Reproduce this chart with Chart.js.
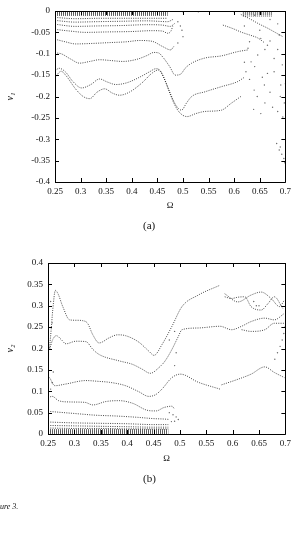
<!DOCTYPE html>
<html>
<head>
<meta charset="utf-8">
<script src="https://cdn.jsdelivr.net/npm/chart.js@4.4.1/dist/chart.umd.min.js"></script>
<style>
  body { margin: 0; background: #fff; width: 295px; height: 550px; position: relative; overflow: hidden; }
  canvas { position: absolute; left: 0; }
  .cap { position: absolute; font-family: 'Liberation Serif', 'DejaVu Serif', serif; color: #111; will-change: transform; }
</style>
</head>
<body>
<canvas id="chartA" width="295" height="211" style="top:0px"></canvas>
<canvas id="chartB" width="295" height="224" style="top:240px"></canvas>
<div class="cap" style="left:143px; top:219px; font-size:11px;">(a)</div>
<div class="cap" style="left:143px; top:472px; font-size:11px;">(b)</div>
<div class="cap" style="left:0px; top:502px; font-size:8px; font-style:italic;">ure 3.</div>
<script>
// ---- (a) v1 against Omega ----
var omegaTicks = [0.25, 0.3, 0.35, 0.4, 0.45, 0.5, 0.55, 0.6, 0.65, 0.7];

var bandTopLevels = [-0.001, -0.0025, -0.004, -0.0055, -0.007, -0.0085, -0.0105];
var bandTopOmega = [0.25, 0.47];
var bandTopRightLevels = [-0.001, -0.003, -0.005, -0.007, -0.009, -0.012];
var bandTopRightOmega = [0.617, 0.675];

var curveA0 = [[0.25,-0.015],[0.29,-0.018],[0.34,-0.017],[0.4,-0.017],[0.47,-0.017]];
var curveA1 = [[0.25,-0.022],[0.29,-0.026],[0.33,-0.025],[0.38,-0.024],[0.43,-0.023],[0.47,-0.025],[0.48,-0.02]];
var curveA2 = [[0.25,-0.031],[0.29,-0.036],[0.33,-0.035],[0.38,-0.034],[0.43,-0.032],[0.46,-0.033],[0.475,-0.036],[0.485,-0.028]];
var curveA3 = [[0.25,-0.043],[0.28,-0.047],[0.31,-0.05],[0.35,-0.049],[0.40,-0.048],[0.44,-0.046],[0.46,-0.047],[0.47,-0.052],[0.476,-0.048],[0.48,-0.036]];
var curveA4 = [[0.25,-0.066],[0.27,-0.072],[0.29,-0.077],[0.32,-0.076],[0.355,-0.074],[0.39,-0.072],[0.415,-0.069],[0.44,-0.071],[0.46,-0.083],[0.476,-0.091],[0.482,-0.083]];
var curveA5 = [[0.25,-0.098],[0.262,-0.1],[0.28,-0.112],[0.298,-0.122],[0.318,-0.118],[0.337,-0.114],[0.36,-0.116],[0.382,-0.118],[0.41,-0.113],[0.43,-0.104],[0.443,-0.097],[0.452,-0.098],[0.462,-0.11],[0.474,-0.13],[0.485,-0.15],[0.495,-0.148],[0.505,-0.133],[0.517,-0.122],[0.543,-0.11],[0.575,-0.105],[0.607,-0.095],[0.627,-0.091]];
var curveA6 = [[0.25,-0.14],[0.258,-0.134],[0.27,-0.142],[0.285,-0.165],[0.302,-0.18],[0.32,-0.172],[0.337,-0.159],[0.352,-0.166],[0.369,-0.172],[0.39,-0.168],[0.415,-0.155],[0.435,-0.142],[0.447,-0.135],[0.456,-0.14],[0.466,-0.165],[0.476,-0.195],[0.487,-0.222],[0.497,-0.232],[0.507,-0.215],[0.517,-0.2],[0.543,-0.189],[0.575,-0.177],[0.607,-0.165],[0.62,-0.155]];
var curveA7 = [[0.25,-0.155],[0.262,-0.141],[0.272,-0.152],[0.29,-0.182],[0.305,-0.2],[0.318,-0.205],[0.332,-0.19],[0.347,-0.182],[0.362,-0.192],[0.376,-0.197],[0.395,-0.19],[0.42,-0.168],[0.44,-0.145],[0.452,-0.138],[0.462,-0.155],[0.472,-0.185],[0.482,-0.215],[0.493,-0.237],[0.508,-0.247],[0.525,-0.24],[0.543,-0.235],[0.575,-0.232],[0.594,-0.216],[0.613,-0.2]];
var curveA8 = [[0.578,-0.033],[0.595,-0.04],[0.615,-0.05],[0.635,-0.058],[0.646,-0.063],[0.66,-0.075]];
var curveA9 = [[0.613,-0.008],[0.63,-0.018],[0.648,-0.03],[0.665,-0.04],[0.68,-0.05],[0.695,-0.06]];

var cloudA = [[0.627,-0.087],[0.646,-0.103],[0.633,-0.119],[0.665,-0.08],[0.678,-0.142],[0.623,-0.142],[0.691,-0.173],
  [0.659,-0.173],[0.639,-0.185],[0.678,-0.111],[0.688,-0.056],[0.652,-0.064],[0.63,-0.072],[0.665,-0.146],[0.694,-0.126],
  [0.64,-0.13],[0.655,-0.155],[0.67,-0.19],[0.645,-0.2],[0.66,-0.215],[0.675,-0.225],[0.685,-0.235],[0.695,-0.248],
  [0.63,-0.16],[0.62,-0.12],[0.66,-0.09],[0.67,-0.07],[0.685,-0.09],[0.69,-0.2],[0.698,-0.215],[0.7,-0.17],[0.652,-0.24],
  [0.638,-0.23],[0.683,-0.31],[0.688,-0.325],[0.693,-0.335],[0.697,-0.345],[0.699,-0.355],[0.69,-0.318],
  [0.49,-0.025],[0.495,-0.035],[0.498,-0.045],[0.5,-0.06],[0.49,-0.075],[0.5,-0.002],[0.53,-0.002],[0.6,-0.002],
  [0.64,-0.01],[0.67,-0.02],[0.685,-0.03],[0.62,-0.035],[0.65,-0.045]];

// ---- (b) v2 against Omega ----
var bandBotLevels = [0.001, 0.0025, 0.004, 0.0055, 0.007, 0.0085, 0.0105];
var bandBotOmega = [0.25, 0.478];

var curveB0 = [[0.25,0.014],[0.3,0.013],[0.35,0.013],[0.4,0.012],[0.45,0.012],[0.478,0.012]];
var curveB1 = [[0.25,0.02],[0.3,0.019],[0.35,0.018],[0.4,0.017],[0.45,0.016],[0.478,0.016]];
var curveB2 = [[0.25,0.028],[0.3,0.026],[0.35,0.025],[0.4,0.024],[0.45,0.022],[0.478,0.022]];
var curveB3 = [[0.25,0.053],[0.27,0.051],[0.3,0.048],[0.34,0.044],[0.38,0.042],[0.42,0.039],[0.45,0.036],[0.47,0.035],[0.48,0.034]];
var curveB4 = [[0.25,0.085],[0.258,0.088],[0.27,0.078],[0.29,0.075],[0.32,0.074],[0.335,0.068],[0.36,0.076],[0.385,0.078],[0.41,0.072],[0.44,0.055],[0.455,0.054],[0.47,0.062],[0.485,0.065],[0.49,0.058]];
var curveB5 = [[0.253,0.132],[0.263,0.113],[0.284,0.117],[0.322,0.125],[0.347,0.123],[0.366,0.121],[0.397,0.113],[0.422,0.099],[0.441,0.088],[0.454,0.092],[0.466,0.105],[0.485,0.132],[0.501,0.14],[0.535,0.121],[0.576,0.105]];
var curveB6 = [[0.579,0.115],[0.61,0.128],[0.635,0.14],[0.661,0.157],[0.679,0.144],[0.698,0.132]];
var curveB7 = [[0.253,0.198],[0.259,0.221],[0.266,0.23],[0.275,0.221],[0.284,0.211],[0.303,0.217],[0.322,0.216],[0.335,0.198],[0.347,0.186],[0.385,0.171],[0.41,0.163],[0.428,0.152],[0.444,0.142],[0.46,0.155],[0.472,0.171],[0.485,0.198],[0.497,0.228],[0.504,0.244],[0.535,0.248],[0.576,0.252],[0.598,0.244],[0.617,0.252],[0.635,0.263],[0.661,0.271],[0.679,0.267],[0.698,0.282]];
var curveB8 = [[0.617,0.244],[0.635,0.24],[0.661,0.244],[0.679,0.259],[0.698,0.259]];
var curveB9 = [[0.253,0.202],[0.256,0.244],[0.259,0.29],[0.264,0.336],[0.269,0.328],[0.278,0.298],[0.291,0.267],[0.305,0.266],[0.316,0.265],[0.325,0.259],[0.335,0.232],[0.347,0.213],[0.366,0.225],[0.382,0.232],[0.397,0.23],[0.422,0.215],[0.441,0.194],[0.451,0.184],[0.466,0.209],[0.485,0.252],[0.504,0.298],[0.535,0.325],[0.576,0.348]];
var curveB10 = [[0.585,0.321],[0.598,0.317],[0.61,0.32],[0.623,0.321],[0.635,0.298],[0.654,0.29],[0.667,0.305],[0.679,0.321],[0.695,0.294]];
var curveB11 = [[0.585,0.328],[0.61,0.309],[0.635,0.325],[0.654,0.332],[0.673,0.317],[0.689,0.298],[0.698,0.313]];

var cloudB = [[0.48,0.05],[0.487,0.045],[0.493,0.04],[0.497,0.034],[0.49,0.03],[0.484,0.029],[0.68,0.175],[0.685,0.19],
  [0.69,0.205],[0.694,0.22],[0.697,0.235],[0.699,0.25],[0.49,0.16],[0.493,0.19],[0.48,0.22],[0.49,0.24],[0.255,0.105],
  [0.258,0.12],[0.26,0.145],[0.255,0.31],[0.258,0.26],[0.64,0.31],[0.645,0.3],[0.65,0.3]];

var serif = "'Liberation Serif', 'DejaVu Serif', serif";

function toPoints(list) {
  return list.map(function (p) { return { x: p[0], y: p[1] }; });
}

// each branch is drawn as a fine dotted trace, like the sampled points of the original
function curveSet(list) {
  return {
    data: toPoints(list), showLine: true, borderColor: 'rgba(0,0,0,0.8)', borderWidth: 0.9,
    borderDash: [1, 1.3], pointRadius: 0, cubicInterpolationMode: 'monotone'
  };
}

function bandSets(levels, omega) {
  return levels.map(function (lv) {
    return {
      data: omega.map(function (w) { return { x: w, y: lv }; }), showLine: true,
      borderColor: 'rgba(0,0,0,0.55)', borderWidth: 1, borderDash: [1, 1], pointRadius: 0
    };
  });
}

function cloudSet(list) {
  return { data: toPoints(list), showLine: false, pointRadius: 0.7, pointBorderWidth: 0, backgroundColor: 'rgba(0,0,0,0.6)' };
}

function fmt(v) {
  var r = Math.round(v * 100) / 100;
  if (r === 0) return '0';
  return String(r);
}

// box round the plot with inward ticks on all four sides (gnuplot look)
var boxTicks = {
  id: 'boxTicks',
  afterDraw: function (chart) {
    var ctx = chart.ctx, a = chart.chartArea, x = chart.scales.x, y = chart.scales.y;
    ctx.save();
    ctx.strokeStyle = '#000';
    ctx.lineWidth = 1;
    ctx.beginPath();
    ctx.rect(Math.round(a.left) + 0.5, Math.round(a.top) + 0.5, Math.round(a.right - a.left), Math.round(a.bottom - a.top));
    x.ticks.forEach(function (t) {
      var px = Math.round(x.getPixelForValue(t.value)) + 0.5;
      ctx.moveTo(px, a.bottom); ctx.lineTo(px, a.bottom - 4);
      ctx.moveTo(px, a.top); ctx.lineTo(px, a.top + 4);
    });
    y.ticks.forEach(function (t) {
      var py = Math.round(y.getPixelForValue(t.value)) + 0.5;
      ctx.moveTo(a.left, py); ctx.lineTo(a.left + 4, py);
      ctx.moveTo(a.right, py); ctx.lineTo(a.right - 4, py);
    });
    ctx.stroke();
    ctx.restore();
  }
};

function makeChart(id, datasets, yMin, yMax, yTitle, pad, yWidth, xHeight) {
  return new Chart(document.getElementById(id).getContext('2d'), {
    type: 'scatter',
    data: { datasets: datasets },
    options: {
      responsive: false,
      animation: false,
      devicePixelRatio: 1,
      layout: { padding: pad },
      plugins: { legend: { display: false }, tooltip: { enabled: false } },
      scales: {
        x: {
          type: 'linear', min: 0.25, max: 0.7,
          afterBuildTicks: function (s) { s.ticks = omegaTicks.map(function (v) { return { value: v }; }); },
          afterFit: function (s) { s.height = xHeight; },
          grid: { display: false, drawTicks: false },
          border: { display: false },
          ticks: { padding: 4, color: '#111', font: { family: serif, size: 9 }, callback: fmt, maxRotation: 0 },
          title: { display: true, text: 'Ω', color: '#111', font: { family: serif, size: 9 }, padding: { top: 0, bottom: 0 } }
        },
        y: {
          type: 'linear', min: yMin, max: yMax,
          ticks: { stepSize: 0.05, padding: 5, color: '#111', font: { family: serif, size: 9 }, callback: fmt },
          afterFit: function (s) { s.width = yWidth; },
          grid: { display: false, drawTicks: false },
          border: { display: false },
          title: { display: true, text: yTitle, color: '#111', font: { family: serif, size: 10, style: 'italic' }, padding: { top: 4, bottom: 0 } }
        }
      }
    },
    plugins: [boxTicks]
  });
}

var setsA = []
  .concat(bandSets(bandTopLevels, bandTopOmega))
  .concat(bandSets(bandTopRightLevels, bandTopRightOmega))
  .concat([curveA0, curveA1, curveA2, curveA3, curveA4, curveA5, curveA6, curveA7, curveA8, curveA9].map(curveSet))
  .concat([cloudSet(cloudA)]);

var setsB = []
  .concat(bandSets(bandBotLevels, bandBotOmega))
  .concat([curveB0, curveB1, curveB2, curveB3, curveB4, curveB5, curveB6, curveB7, curveB8, curveB9, curveB10, curveB11].map(curveSet))
  .concat([cloudSet(cloudB)]);

var chartA = makeChart('chartA', setsA, -0.4, 0, 'v₁', { top: 11, right: 7, left: 0, bottom: 0 }, 55, 29);
var chartB = makeChart('chartB', setsB, 0, 0.4, 'v₂', { top: 23, right: 7, left: 0, bottom: 0 }, 48, 30);
</script>
</body>
</html>
